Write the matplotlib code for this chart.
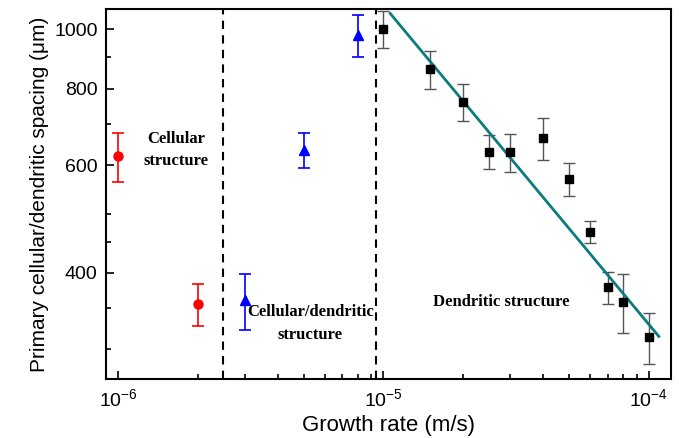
import matplotlib.pyplot as plt
import numpy as np
from matplotlib.ticker import FixedLocator, NullFormatter, LogLocator

plt.rcParams['font.family'] = ['Liberation Sans', 'DejaVu Sans']
plt.rcParams['mathtext.default'] = 'regular'

# cellular region (red circles)
cell_v = [1e-6, 2e-6]
cell_s = [620, 356]
cell_err = [57, 28]

# cellular/dendritic transition (blue triangles)
trans_v = [3e-6, 5e-6, 8e-6]
trans_s = [361, 635, 978]
trans_err = [38, 42, 78]

# dendritic region (black squares)
dend_v = [1e-5, 1.5e-5, 2e-5, 2.5e-5, 3e-5, 4e-5, 5e-5, 6e-5, 7e-5, 8e-5, 1e-4]
dend_s = [1000, 860, 761, 631, 629, 663, 569, 467, 379, 359, 314]
dend_err = [70, 60, 52, 40, 45, 52, 35, 20, 23, 40, 30]

# power-law fit line endpoints
fit_v = [1.06e-5, 1.09e-4]
fit_s = [1061, 315]

# region boundaries
boundaries = [2.48e-6, 9.36e-6]

fig = plt.figure(figsize=(6.79, 4.38), dpi=100)
ax = fig.add_axes([0.156, 0.135, 0.832, 0.844])

ax.errorbar(cell_v, cell_s, yerr=cell_err, fmt='o', color='red', ms=6.5,
            capsize=4, elinewidth=1.2, capthick=1.2)
ax.errorbar(trans_v, trans_s, yerr=trans_err, fmt='^', color='blue', ms=7,
            capsize=4, elinewidth=1.2, capthick=1.2)
ax.errorbar(dend_v, dend_s, yerr=dend_err, fmt='s', color='black', ms=5.5,
            ecolor='#555555', capsize=4, elinewidth=1.0, capthick=1.0)
ax.plot(fit_v, fit_s, color='#0b7b7b', lw=2)

for b in boundaries:
    ax.axvline(b, color='black', ls='--', lw=1.5, dashes=(4, 3))

ax.set_xscale('log')
ax.set_yscale('log')
ax.set_xlim(9.0e-7, 1.21e-4)
ax.set_ylim(268.5, 1078)

ax.yaxis.set_major_locator(FixedLocator([400, 600, 800, 1000]))
ax.yaxis.set_minor_locator(FixedLocator([300, 350, 450, 500, 700, 900]))
ax.yaxis.set_major_formatter(plt.FuncFormatter(lambda v, p: f'{int(v)}'))
ax.yaxis.set_minor_formatter(NullFormatter())
ax.xaxis.set_major_locator(LogLocator(base=10))
ax.xaxis.set_minor_locator(LogLocator(base=10, subs=np.arange(2, 10)))
ax.xaxis.set_minor_formatter(NullFormatter())

ax.tick_params(which='both', direction='in', top=False, right=False,
               labelsize=14, width=1.2)
ax.tick_params(which='major', length=6, pad=7)
ax.tick_params(axis='y', which='major', pad=6)
ax.tick_params(which='minor', length=3.5)
for s in ax.spines.values():
    s.set_linewidth(1.5)

ax.set_xlabel('Growth rate (m/s)', fontsize=16, labelpad=3)
ax.set_ylabel('Primary cellular/dendritic spacing (μm)', fontsize=15, labelpad=4)

tfont = dict(family='Liberation Serif', fontweight='bold', fontsize=12,
             ha='center', va='center', linespacing=1.55)
ax.text(1.65e-6, 635, 'Cellular\nstructure', **tfont)
ax.text(5.3e-6, 331, 'Cellular/dendritic\nstructure', **tfont)
ax.text(2.78e-5, 358, 'Dendritic structure', **tfont)

fig.savefig('out.png', dpi=100)
